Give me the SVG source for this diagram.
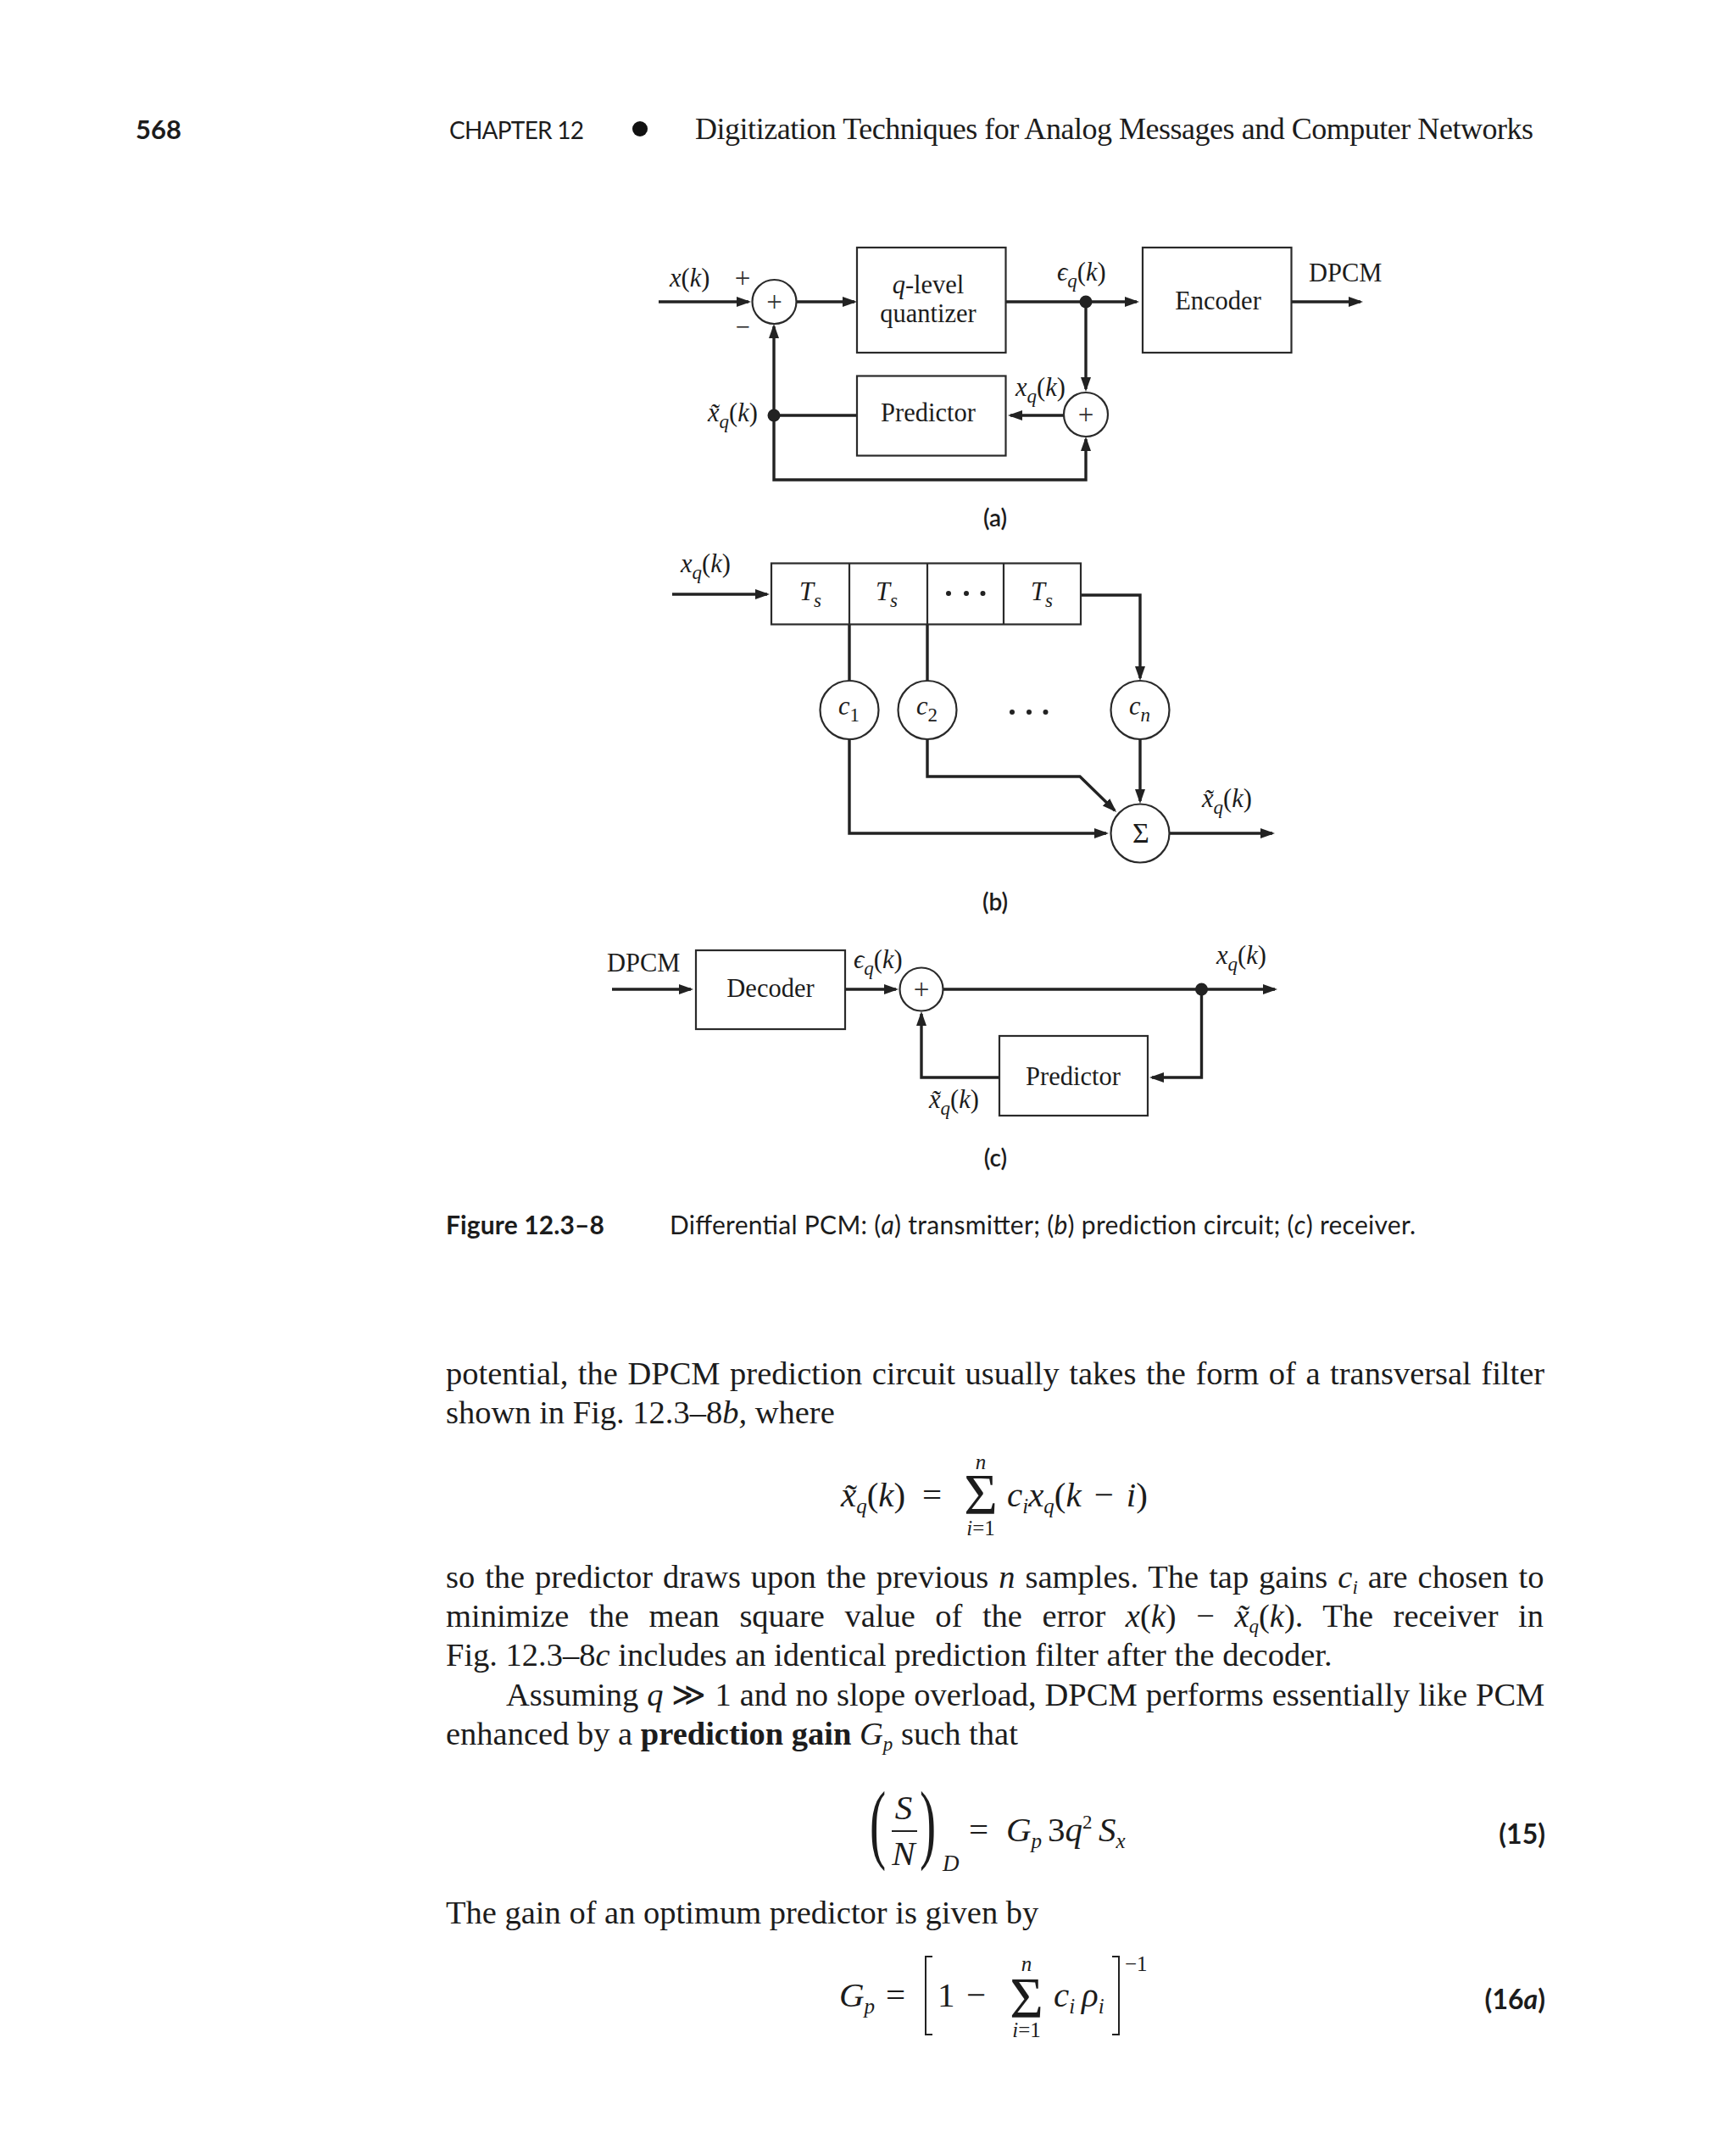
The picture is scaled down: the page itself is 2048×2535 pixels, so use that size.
<svg xmlns="http://www.w3.org/2000/svg" width="2048" height="2535" viewBox="0 0 2048 2535">
<style>
text{fill:#1c1c1c;font-family:"Liberation Serif","Times New Roman",serif;font-size:30.500px}
.i{font-style:italic}
.n{font-style:normal}
.sub{font-size:23px}
.body{font-size:38.500px}
.m{font-size:41px}
.ms{font-size:25px}
.b{font-weight:bold}
.f{font-family:Lato,"Open Sans",sans-serif}
.mid{text-anchor:middle}
.box{fill:#fff;stroke:#2a2a2a;stroke-width:2.2}
.circ{fill:#fff;stroke:#2a2a2a;stroke-width:2.2}
.wire{fill:none;stroke:#222;stroke-width:3.4}
.arr{marker-end:url(#ah)}
.dot{fill:#222}
.plus{font-size:33px;font-weight:normal;fill:#333}
</style>
<defs>
<marker id="ah" markerUnits="userSpaceOnUse" markerWidth="20" markerHeight="14" refX="14" refY="6" orient="auto"><path d="M0 0L17 6L0 12z" fill="#222"/></marker>
</defs>
<rect width="2048" height="2535" fill="#fff"/>
<g id="header">
<text x="160" y="164" class="f b" style="font-size:31px">568</text>
<text x="530" y="164" class="f" style="font-size:28px" textLength="159">CHAPTER 12</text>
<circle cx="755" cy="152" r="9" fill="#111"/>
<text x="820" y="164" style="font-size:36px" textLength="989">Digitization Techniques for Analog Messages and Computer Networks</text>
</g>
<g id="connectors">
<path class="wire arr" d="M777 356H883"/>
<path class="wire arr" d="M939 356H1008"/>
<path class="wire arr" d="M1186 356H1341"/>
<path class="wire arr" d="M1524 356H1605"/>
<path class="wire arr" d="M1281 356V459"/>
<path class="wire arr" d="M1255 490H1192"/>
<path class="wire" d="M1011 490H913"/>
<path class="wire arr" d="M913 490V385"/>
<path class="wire arr" d="M913 490V566H1281V518"/>
<path class="wire arr" d="M793 701H905"/>
<path class="wire arr" d="M1275 702H1345V800"/>
<path class="wire" d="M1002 737V803"/>
<path class="wire" d="M1094 737V803"/>
<path class="wire arr" d="M1002 872V983H1305"/>
<path class="wire arr" d="M1094 872V916H1274L1315 956"/>
<path class="wire arr" d="M1345 872V945"/>
<path class="wire arr" d="M1380 983H1501"/>
<path class="wire arr" d="M722 1167H815"/>
<path class="wire arr" d="M997 1167H1057"/>
<path class="wire arr" d="M1112 1167H1504"/>
<path class="wire arr" d="M1417.500 1167V1271H1359"/>
<path class="wire arr" d="M1179 1271H1087V1196"/>
<circle class="dot" cx="1281" cy="356" r="7.500"/>
<circle class="dot" cx="913" cy="490" r="7.500"/>
<circle class="dot" cx="1417.500" cy="1167" r="7.500"/>
</g>
<g id="quantizer"><rect class="box" x="1011" y="292" width="175.500" height="124"/>
<text class="mid" x="1095" y="346"><tspan class="i">q</tspan>-level</text><text class="mid" x="1095" y="380">quantizer</text></g>
<g id="encoder"><rect class="box" x="1348" y="292" width="175.500" height="124"/><text class="mid" x="1437" y="365">Encoder</text></g>
<g id="predictor-a"><rect class="box" x="1011" y="443.500" width="175.500" height="94"/><text class="mid" x="1095" y="497">Predictor</text></g>
<g id="sum-a1"><circle class="circ" cx="913.500" cy="356" r="26"/><text class="mid plus" x="913.500" y="367">+</text></g>
<g id="sum-a2"><circle class="circ" cx="1281" cy="489" r="26"/><text class="mid plus" x="1281" y="500">+</text></g>
<g id="labels-a">
<text x="790" y="338"><tspan class="i">x</tspan>(<tspan class="i">k</tspan>)</text>
<text class="mid plus" x="876" y="339">+</text><text class="mid" x="876" y="396">−</text>
<text x="1247" y="331" class="i">ϵ<tspan class="sub" dy="8">q</tspan><tspan dy="-8" class="n">(</tspan>k<tspan class="n">)</tspan></text>
<text x="1544" y="332">DPCM</text>
<text x="1198" y="467" class="i">x<tspan class="sub" dy="8">q</tspan><tspan dy="-8" class="n">(</tspan>k<tspan class="n">)</tspan></text>
<text x="835" y="497" class="i">x&#771;<tspan class="sub" dy="8">q</tspan><tspan dy="-8" class="n">(</tspan>k<tspan class="n">)</tspan></text>
<text class="mid f" x="1174" y="621" style="font-size:28px;font-weight:600">(a)</text>
</g>
<g id="delay-line">
<rect class="box" x="910" y="664.500" width="365" height="72"/>
<path class="box" d="M1002 664.500V736.500M1094 664.500V736.500M1184 664.500V736.500"/>
<text x="943" y="708" class="i">T<tspan class="sub" dy="8">s</tspan></text>
<text x="1033" y="708" class="i">T<tspan class="sub" dy="8">s</tspan></text>
<text x="1216" y="708" class="i">T<tspan class="sub" dy="8">s</tspan></text>
<circle class="dot" cx="1119" cy="700" r="3"/><circle class="dot" cx="1140" cy="700" r="3"/><circle class="dot" cx="1159.500" cy="700" r="3"/>
</g>
<g id="c1"><circle class="circ" cx="1002" cy="837.500" r="34.500"/><text x="989" y="843" class="i">c<tspan class="sub n" dy="8">1</tspan></text></g>
<g id="c2"><circle class="circ" cx="1094" cy="837.500" r="34.500"/><text x="1081" y="843" class="i">c<tspan class="sub n" dy="8">2</tspan></text></g>
<g id="cn"><circle class="circ" cx="1345" cy="837.500" r="34.500"/><text x="1332" y="843" class="i">c<tspan class="sub" dy="8">n</tspan></text></g>
<g id="sigma"><circle class="circ" cx="1345" cy="983" r="34.500"/><text class="mid" x="1346" y="994" style="font-size:34px">Σ</text></g>
<g id="labels-b">
<circle class="dot" cx="1194" cy="840" r="3"/><circle class="dot" cx="1214" cy="840" r="3"/><circle class="dot" cx="1233.500" cy="840" r="3"/>
<text x="803" y="675" class="i">x<tspan class="sub" dy="8">q</tspan><tspan dy="-8" class="n">(</tspan>k<tspan class="n">)</tspan></text>
<text x="1418" y="952" class="i">x&#771;<tspan class="sub" dy="8">q</tspan><tspan dy="-8" class="n">(</tspan>k<tspan class="n">)</tspan></text>
<text class="mid f" x="1174" y="1074" style="font-size:28px;font-weight:600">(b)</text>
</g>
<g id="decoder"><rect class="box" x="821" y="1121" width="176" height="93"/><text class="mid" x="909" y="1176">Decoder</text></g>
<g id="sum-c"><circle class="circ" cx="1087" cy="1167" r="25.500"/><text class="mid plus" x="1087" y="1178">+</text></g>
<g id="predictor-c"><rect class="box" x="1179" y="1222" width="175" height="94"/><text class="mid" x="1266" y="1280">Predictor</text></g>
<g id="labels-c">
<text x="716" y="1146">DPCM</text>
<text x="1007" y="1142" class="i">ϵ<tspan class="sub" dy="8">q</tspan><tspan dy="-8" class="n">(</tspan>k<tspan class="n">)</tspan></text>
<text x="1435" y="1137" class="i">x<tspan class="sub" dy="8">q</tspan><tspan dy="-8" class="n">(</tspan>k<tspan class="n">)</tspan></text>
<text x="1096" y="1307" class="i">x&#771;<tspan class="sub" dy="8">q</tspan><tspan dy="-8" class="n">(</tspan>k<tspan class="n">)</tspan></text>
<text class="mid f" x="1174.500" y="1376" style="font-size:28px;font-weight:600">(c)</text>
</g>
<g id="caption">
<text x="526" y="1456" class="f b" style="font-size:30px" textLength="187">Figure 12.3–8</text>
<text x="790" y="1456" class="f" style="font-size:30px" textLength="880">Differential PCM: (<tspan class="i">a</tspan>) transmitter; (<tspan class="i">b</tspan>) prediction circuit; (<tspan class="i">c</tspan>) receiver.</text>
</g>
<g id="body">
<text class="body" x="526" y="1633" word-spacing="1.9">potential, the DPCM prediction circuit usually takes the form of a transversal filter</text>
<text class="body" x="526" y="1679">shown in Fig. 12.3–8<tspan class="i">b,</tspan> where</text>
<text class="body" x="526" y="1873" word-spacing="2.3">so the predictor draws upon the previous <tspan class="i">n</tspan> samples. The tap gains <tspan class="i">c<tspan class="sub" dy="7">i</tspan></tspan><tspan dy="-7"> are chosen to</tspan></text>
<text class="body" x="526" y="1919" word-spacing="13.9">minimize the mean square value of the error <tspan class="i">x</tspan>(<tspan class="i">k</tspan>) − <tspan class="i">x&#771;<tspan class="sub" dy="7">q</tspan></tspan><tspan dy="-7">(</tspan><tspan class="i">k</tspan>). The receiver in</text>
<text class="body" x="526" y="1965">Fig. 12.3–8<tspan class="i">c</tspan> includes an identical prediction filter after the decoder.</text>
<text class="body" x="597" y="2012" word-spacing=".4">Assuming <tspan class="i">q</tspan> ≫ 1 and no slope overload, DPCM performs essentially like PCM</text>
<text class="body" x="526" y="2058">enhanced by a <tspan class="b">prediction gain</tspan> <tspan class="i">G<tspan class="sub" dy="7">p</tspan></tspan><tspan dy="-7"> such that</tspan></text>
<text class="body" x="526" y="2269">The gain of an optimum predictor is given by</text>
</g>
<g id="eq14">
<text class="m i" x="992" y="1777">x&#771;<tspan class="ms" dy="8">q</tspan><tspan dy="-8" class="n">(</tspan>k<tspan class="n">)</tspan></text>
<text class="m" x="1088" y="1777">=</text>
<text x="1157" y="1733" class="mid i ms">n</text>
<text class="mid" x="1157" y="1785" style="font-size:68px">Σ</text>
<text x="1157" y="1811" class="mid ms"><tspan class="i">i</tspan>=1</text>
<text class="m i" x="1188" y="1777">c<tspan class="ms" dy="8">i</tspan><tspan dy="-8">x</tspan><tspan class="ms" dy="8">q</tspan><tspan dy="-8" class="n">(</tspan>k<tspan class="n" dx="15">−</tspan><tspan dx="15">i</tspan><tspan class="n">)</tspan></text>
</g>
<g id="eq15">
<text transform="translate(1026 2185) scale(.6 1.08)" style="font-size:96px">(</text>
<text transform="translate(1085 2185) scale(.6 1.08)" style="font-size:96px">)</text>
<text class="m i mid" x="1066" y="2146">S</text>
<path d="M1052 2160H1082" stroke="#222" stroke-width="2"/>
<text class="m i mid" x="1066" y="2200">N</text>
<text class="i" x="1112" y="2207" style="font-size:27px">D</text>
<text class="m" x="1143" y="2172">=</text>
<text class="m i" x="1187" y="2172">G<tspan class="ms" dy="8">p</tspan></text>
<text class="m" x="1236" y="2172">3<tspan class="i">q</tspan><tspan class="sub" dy="-15">2</tspan></text>
<text class="m i" x="1296" y="2172">S<tspan class="ms" dy="8">x</tspan></text>
<text class="f b" x="1823" y="2175" text-anchor="end" style="font-size:32px">(15)</text>
</g>
<g id="eq16">
<text class="m i" x="990" y="2367">G<tspan class="ms" dy="8">p</tspan></text>
<text class="m" x="1045" y="2367">=</text>
<path d="M1100 2308H1092V2400H1100M1312 2308H1320V2400H1312" fill="none" stroke="#222" stroke-width="2"/>
<text class="m" x="1106" y="2367">1</text>
<text class="m" x="1140" y="2367">−</text>
<text x="1211" y="2325" class="mid i ms">n</text>
<text class="mid" x="1211" y="2379" style="font-size:68px">Σ</text>
<text x="1211" y="2403" class="mid ms"><tspan class="i">i</tspan>=1</text>
<text class="m i" x="1243" y="2367">c<tspan class="ms" dy="8">i</tspan></text>
<text class="m i" x="1276" y="2367">ρ<tspan class="ms" dy="8">i</tspan></text>
<text x="1327" y="2325" class="ms">−1</text>
<text class="f b" x="1823" y="2370" text-anchor="end" style="font-size:32px">(16<tspan class="i">a</tspan>)</text>
</g>
</svg>
